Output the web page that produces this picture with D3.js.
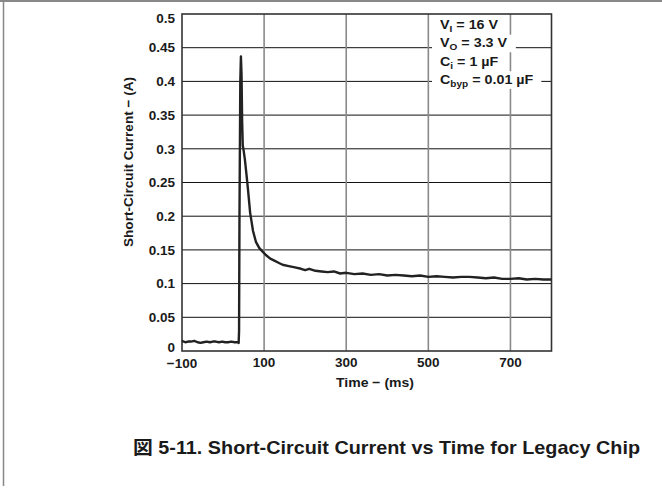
<!DOCTYPE html>
<html><head><meta charset="utf-8">
<script src="https://cdn.jsdelivr.net/npm/d3@7"></script>
<style>
body{margin:0;background:#fff;}
svg text{font-family:"Liberation Sans",Arial,sans-serif;font-weight:bold;fill:#1a1a1a;}
</style></head><body>
<svg id="c" width="662" height="493"></svg>
<script>
const timeMs = [-100,-92,-85,-78,-70,-62,-55,-48,-40,-32,-25,-18,-10,-2,5,12,20,28,35,38,
  39,40,42,43.5,45,46.5,48,50,53,57,61,66,73,80,88,97,105,115,125,135,145,160,175,190,200,210,
  225,240,255,270,285,300,320,340,360,380,400,420,440,460,480,500,520,540,560,580,600,620,640,
  660,680,700,720,740,760,780,800];
const currentA = [0.015,0.013,0.014,0.014,0.015,0.013,0.012,0.013,0.014,0.013,0.014,0.014,0.013,0.014,0.013,0.013,0.014,0.013,0.013,0.012,
  0.03,0.2,0.40,0.437,0.41,0.34,0.305,0.298,0.285,0.262,0.238,0.205,0.178,0.162,0.153,0.147,0.142,0.137,0.134,0.131,0.128,0.126,0.124,0.122,0.120,0.122,
  0.119,0.118,0.117,0.118,0.115,0.116,0.114,0.115,0.113,0.114,0.112,0.113,0.112,0.111,0.112,0.110,0.111,0.110,0.109,0.110,0.110,0.109,0.108,
  0.109,0.107,0.107,0.108,0.106,0.107,0.106,0.106];
const xTicks = [-100,100,300,500,700];
const xTickLabels = ["\u2212100","100","300","500","700"];
const yTicks = [0,0.05,0.1,0.15,0.2,0.25,0.3,0.35,0.4,0.45,0.5];
const yTickLabels = ["0","0.05","0.1","0.15","0.2","0.25","0.3","0.35","0.4","0.45","0.5"];
const legendLines = [["V","I"," = 16 V"],["V","O"," = 3.3 V"],["C","i"," = 1 \u00b5F"],["C","byp"," = 0.01 \u00b5F"]];
const titleText = "\u56f3 5-11. Short-Circuit Current vs Time for Legacy Chip";

const FS = 13.5;
const svg = d3.select("#c");
// page frame
svg.append("line").attr("x1",0).attr("x2",662).attr("y1",1).attr("y2",1).attr("stroke","#888").attr("stroke-width",2);
svg.append("line").attr("x1",3.5).attr("x2",3.5).attr("y1",0).attr("y2",486).attr("stroke","#888").attr("stroke-width",1.5);

const x = d3.scaleLinear().domain([-100,800]).range([182,551.5]);
const y = d3.scaleLinear().domain([0,0.5]).range([351,14]);

// grid
svg.append("g").selectAll("line").data(yTicks.slice(1,-1)).join("line")
  .attr("x1",x(-100)).attr("x2",x(800)).attr("y1",d=>y(d)).attr("y2",d=>y(d))
  .attr("stroke","#111").attr("stroke-width",1);
svg.append("g").selectAll("line").data(xTicks.slice(1)).join("line")
  .attr("x1",d=>x(d)).attr("x2",d=>x(d)).attr("y1",y(0)).attr("y2",y(0.5))
  .attr("stroke","#8a8a8a").attr("stroke-width",1.6);

// legend with white background
const lg = svg.append("g");
legendLines.forEach((l,i)=>{
  const by = 29 + i*18.3;
  const t = lg.append("text").attr("x",440).attr("y",by).attr("font-size",FS)
    .attr("transform",`translate(440,0) scale(1.06,1) translate(-440,0)`);
  t.append("tspan").text(l[0]);
  t.append("tspan").attr("font-size",9.5).attr("dy",3).text(l[1]);
  t.append("tspan").attr("dy",-3).text(l[2]);
  const bb = t.node().getBBox();
  lg.insert("rect","text").attr("x",432).attr("y",bb.y).attr("width",bb.width*1.06+16).attr("height",bb.height).attr("fill","#fff");
});

// frame
svg.append("rect").attr("x",x(-100)).attr("y",y(0.5)).attr("width",x(800)-x(-100)).attr("height",y(0)-y(0.5))
  .attr("fill","none").attr("stroke","#333").attr("stroke-width",1.6);

// curve
const line = d3.line().x((d,i)=>x(timeMs[i])).y((d,i)=>y(currentA[i]));
svg.append("path").datum(currentA).attr("d",line).attr("fill","none")
  .attr("stroke","#222").attr("stroke-width",2.4).attr("stroke-linejoin","round");

// y tick labels
svg.append("g").selectAll("text").data(yTicks).join("text")
  .attr("x",175).attr("y",(d,i)=>y(d) + (i===yTicks.length-1?4.5:(i===0?-3.5:0)))
  .attr("dy","0.35em").attr("text-anchor","end").attr("font-size",FS)
  .text((d,i)=>yTickLabels[i]);
// x tick labels
svg.append("g").selectAll("text").data(xTicks).join("text")
  .attr("x",d=>x(d)).attr("y",(d,i)=>i===0?368:367).attr("text-anchor","middle").attr("font-size",FS)
  .text((d,i)=>xTickLabels[i]);

svg.append("text").attr("x",375).attr("y",387).attr("text-anchor","middle").attr("font-size",FS)
  .attr("textLength",78).attr("lengthAdjust","spacingAndGlyphs").text("Time \u2212 (ms)");
svg.append("text").attr("transform","translate(132.5,162) rotate(-90)").attr("text-anchor","middle").attr("font-size",FS)
  .attr("textLength",170).attr("lengthAdjust","spacingAndGlyphs").text("Short-Circuit Current \u2212 (A)");

svg.append("text").attr("x",386.5).attr("y",454).attr("text-anchor","middle").attr("font-size",18.5)
  .attr("textLength",507).attr("lengthAdjust","spacingAndGlyphs")
  .style("font-family","'Liberation Sans','Noto Sans CJK JP',sans-serif").text(titleText);
</script></body></html>
